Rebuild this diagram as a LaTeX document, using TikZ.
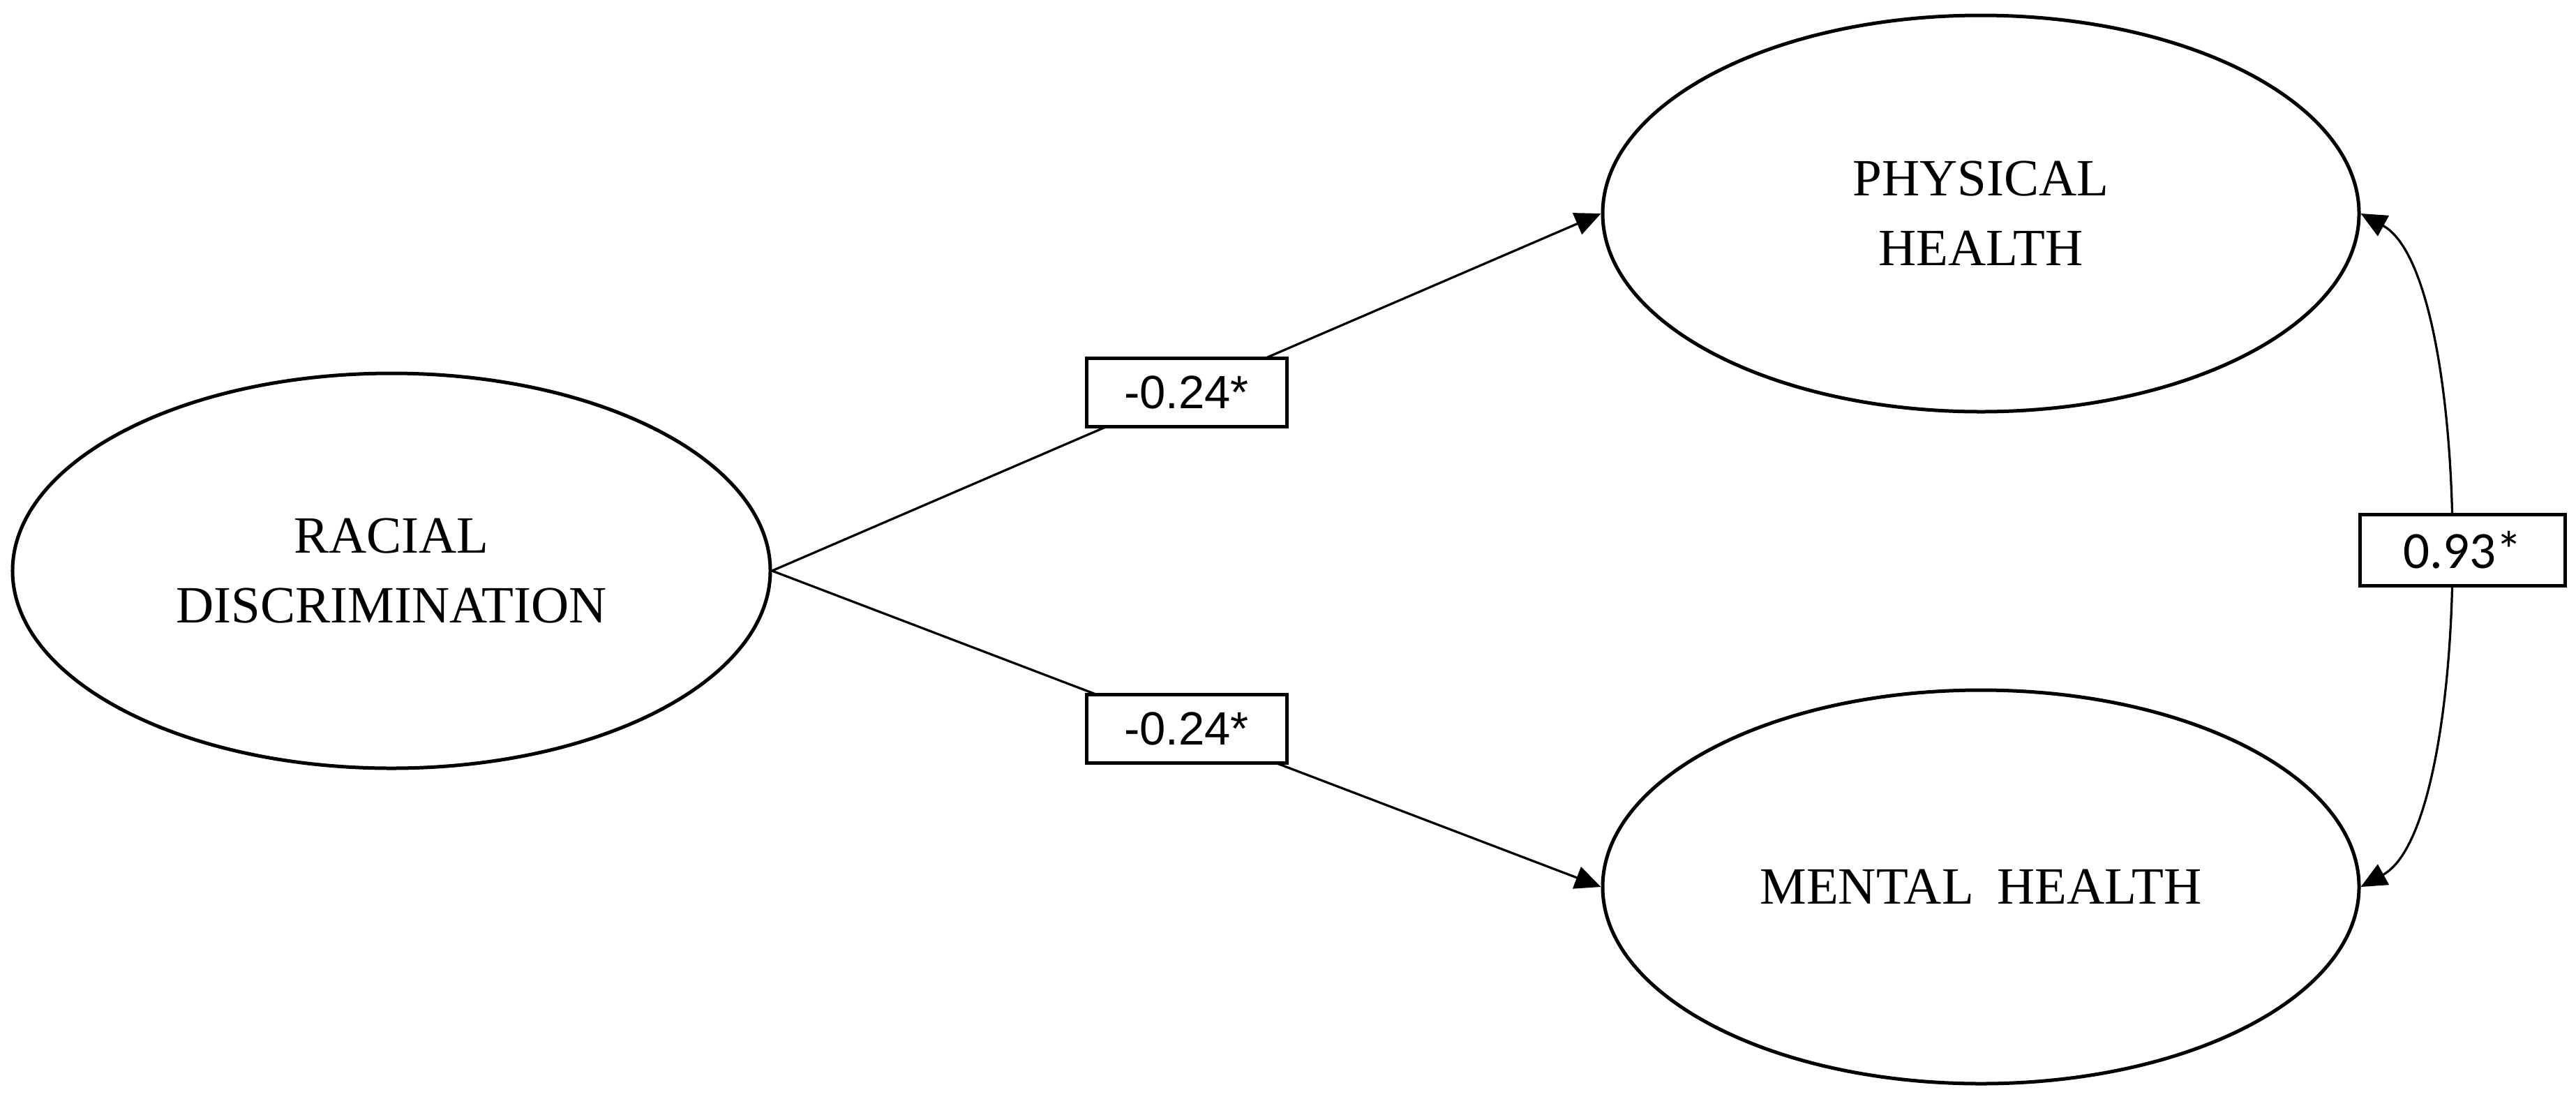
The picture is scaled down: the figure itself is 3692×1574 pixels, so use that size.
\documentclass[tikz,border=0pt]{standalone}
\usepackage{fontspec}
\setmainfont{Liberation Serif}
\newfontfamily\lblsans{Liberation Sans}
\newfontfamily\lblcal{Carlito}
\usetikzlibrary{shapes.geometric,arrows.meta}
\begin{document}
\begin{tikzpicture}[x=0.2pt,y=-0.2pt,
  latent/.style={draw, ellipse, line width=1pt, inner sep=0pt, align=center,
    font=\fontsize{15}{20}\selectfont},
  coef/.style={draw, fill=white, line width=1pt, inner sep=0pt,
    minimum width=57.4pt, minimum height=19.6pt},
  conn/.style={line width=0.65pt, -{Triangle[length=7.4pt,width=6.6pt]}},
  cov/.style={line width=0.65pt, {Triangle[length=7.4pt,width=6.6pt]}-{Triangle[length=7.4pt,width=6.6pt]}},
]
\useasboundingbox (0,0) rectangle (3692,1574);
\node[latent, minimum width=217.2pt, minimum height=113.2pt] (RD) at (561,818) {RACIAL\\DISCRIMINATION};
\node[latent, minimum width=216.8pt, minimum height=113.6pt] (PH) at (2839,306) {PHYSICAL\\HEALTH};
\node[latent, minimum width=216.8pt, minimum height=112.8pt] (MH) at (2839,1271) {MENTAL\hspace{0.45em}HEALTH};
\draw[conn] (RD.east) -- node[coef, pos=0.5, font=\lblsans\fontsize{13.4}{16}\selectfont] (c1) {-0.24*\hspace{3.2pt}} (PH.west);
\draw[conn] (RD.east) -- node[coef, pos=0.5, font=\lblsans\fontsize{13.4}{16}\selectfont] (c2) {-0.24*\hspace{3.2pt}} (MH.west);
\draw[cov] (PH.east) .. controls +(165,90) and +(165,-90) .. node[coef, pos=0.5, xshift=4.4pt, minimum width=58.8pt, minimum height=20.4pt, font=\lblcal\fontsize{15}{17}\selectfont] (c3) {0.93*} (MH.east);
\end{tikzpicture}
\end{document}
